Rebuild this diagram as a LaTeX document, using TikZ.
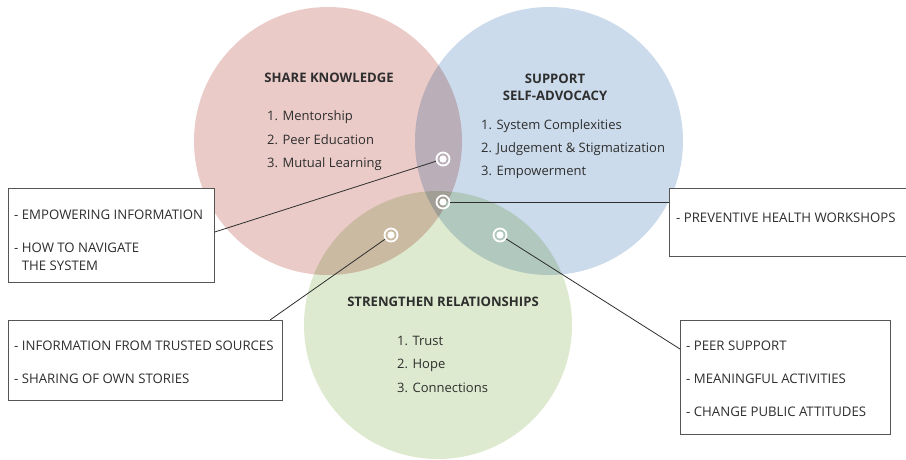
\documentclass[tikz,border=0pt]{standalone}
\usepackage{fontspec}
\setmainfont{Open Sans}
\usetikzlibrary{calc}
\definecolor{knowred}{HTML}{EACBC8}
\definecolor{advblue}{HTML}{CBDBEB}
\definecolor{relgreen}{HTML}{DEEACF}
\definecolor{inktext}{HTML}{2E2E2E}
\definecolor{boxline}{HTML}{555555}
\begin{document}
\begin{tikzpicture}[x=1pt,y=-1pt,
  every node/.style={text=inktext},
  title/.style={font=\fontsize{13.1}{17}\selectfont\bfseries, align=center},
  item/.style={font=\fontsize{13}{15}\selectfont, anchor=west, inner sep=0},
  note/.style={font=\fontsize{13.2}{18}\selectfont, anchor=west, inner sep=0, align=left},
  notebox/.style={draw=boxline, line width=0.8pt, fill=white, inner sep=0, anchor=north west},
  marker/.style={circle, draw=white, line width=1.8pt, minimum size=13pt, inner sep=0,
    path picture={\fill[white] (path picture bounding box.center) circle (3.6pt);}},
  link/.style={draw=inktext, line width=0.8pt}]
\useasboundingbox (0,0) rectangle (906,459);

% three overlapping sets
\begin{scope}[blend group=multiply]
  \fill[knowred] (328,141) circle (134);
  \fill[advblue] (549,141) circle (134);
  \fill[relgreen] (438,325) circle (134);
\end{scope}

% set titles and items
\node[title] (tk) at (329,78) {SHARE KNOWLEDGE};
\node[item] (k1) at (267,117) {1. Mentorship};
\node[item] (k2) at (267,140) {2. Peer Education};
\node[item] (k3) at (267,164) {3. Mutual Learning};

\node[title] (ta) at (555,87) {SUPPORT\\SELF-ADVOCACY};
\node[item] (a1) at (481,126) {1. System Complexities};
\node[item] (a2) at (481,149) {2. Judgement \& Stigmatization};
\node[item] (a3) at (481,172) {3. Empowerment};

\node[title] (tr) at (443,302) {STRENGTHEN RELATIONSHIPS};
\node[item] (r1) at (397,341) {1. Trust};
\node[item] (r2) at (397,365) {2. Hope};
\node[item] (r3) at (397,388) {3. Connections};

% note boxes
\node[notebox, minimum width=206pt, minimum height=94pt] (b1) at (8,188) {};
\node[notebox, minimum width=237pt, minimum height=68pt] (b3) at (669,188) {};
\node[notebox, minimum width=274pt, minimum height=80pt] (b2) at (8,320) {};
\node[notebox, minimum width=210pt, minimum height=114pt] (b4) at (680,320) {};

\node[note] (n11) at (14,215) {- EMPOWERING INFORMATION};
\node[note] (n12) at (14,257) {- HOW TO NAVIGATE\\\hphantom{- }THE SYSTEM};
\node[note] (n31) at (676,218) {- PREVENTIVE HEALTH WORKSHOPS};
\node[note] (n21) at (14,346) {- INFORMATION FROM TRUSTED SOURCES};
\node[note] (n22) at (14,379) {- SHARING OF OWN STORIES};
\node[note] (n41) at (686,346) {- PEER SUPPORT};
\node[note] (n42) at (686,379) {- MEANINGFUL ACTIVITIES};
\node[note] (n43) at (686,412) {- CHANGE PUBLIC ATTITUDES};

% markers in the overlaps
\node[marker] (m1) at (443,159) {};
\node[marker] (m2) at (443,202) {};
\node[marker] (m3) at (391,235) {};
\node[marker] (m4) at (500,235) {};

% connectors
\coordinate (e1) at ($(b1.north east)+(0,44)$);
\coordinate (e3) at ($(b3.north west)+(0,14)$);
\coordinate (e2) at ($(b2.north west)+(262,0)$);
\coordinate (e4) at ($(b4.north west)+(0,29)$);
\draw[link] (m1) -- (e1);
\draw[link] (m2) -- (e3);
\draw[link] (m3) -- (e2);
\draw[link] (m4) -- (e4);
\end{tikzpicture}
\end{document}
